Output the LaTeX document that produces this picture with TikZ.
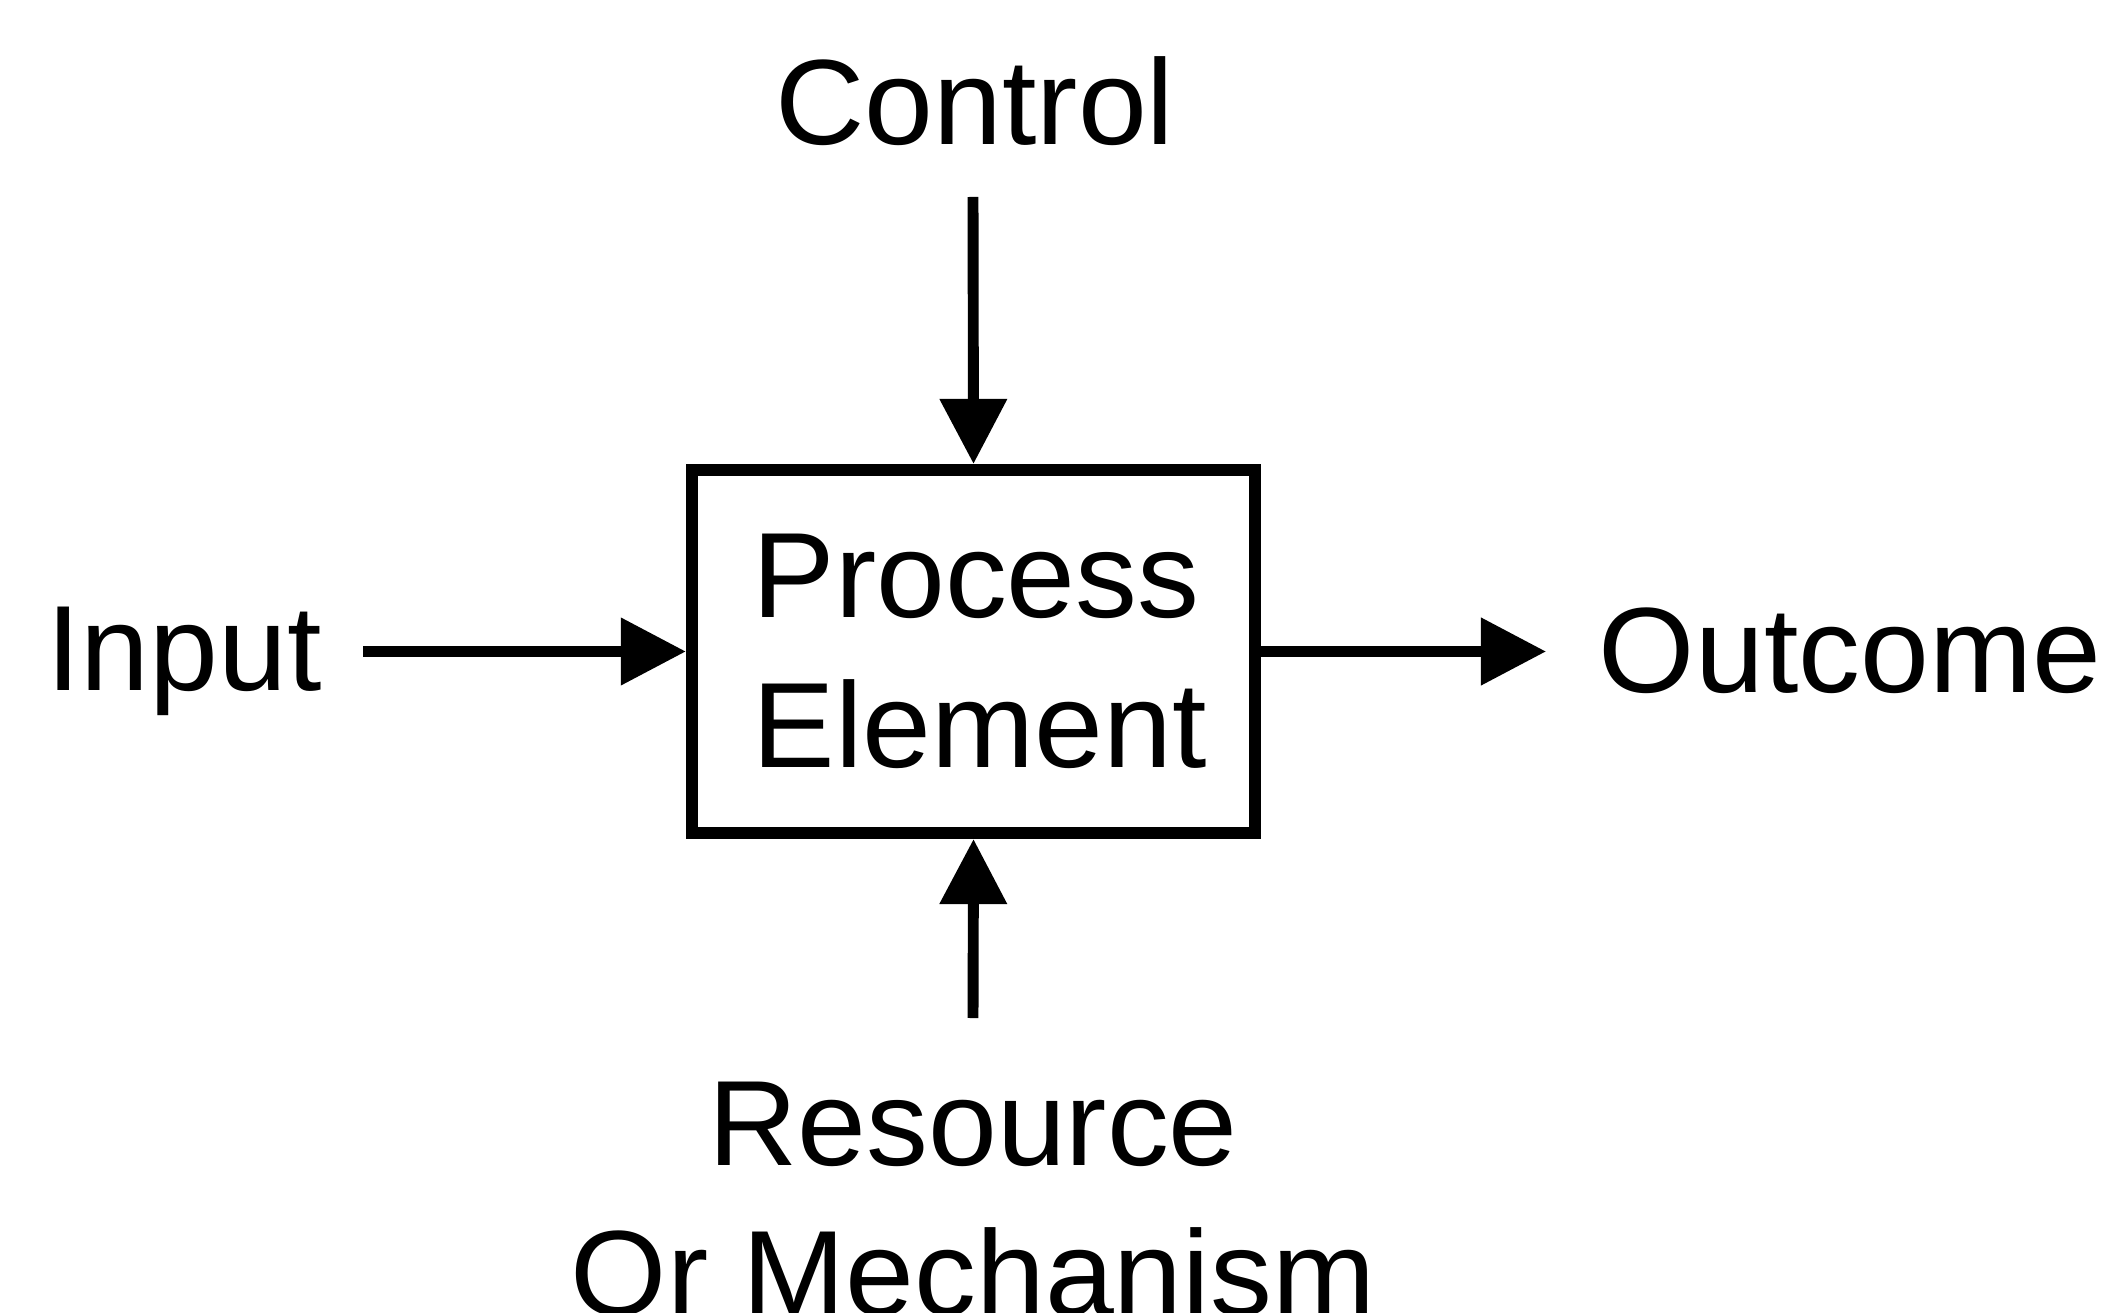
\documentclass[tikz,border=0pt]{standalone}
\usepackage{fontspec}
\setmainfont{Liberation Sans}[FakeStretch=1.02]
\usetikzlibrary{arrows.meta,calc}

\begin{document}
\begin{tikzpicture}[x=0.01cm,y=-0.01cm,
  label text/.style={font=\fontsize{34.5}{42.7}\selectfont, inner sep=0pt, text=black},
  process box/.style={draw=black, line width=3.4pt, fill=white, inner sep=0pt,
    minimum width=5.63cm, minimum height=3.63cm, align=left,
    font=\fontsize{34.5}{42.7}\selectfont},
  flow/.style={line width=3.1pt, -{Triangle[length=18.5pt,width=18.5pt]}}]

  % canvas
  \fill[white] (0,0) rectangle (2104,1313);
  \useasboundingbox (0,0) rectangle (2104,1313);

  % central activity box
  \node[process box] (box) at (973.5,651.5)
    {\hspace*{0.12cm}Process\\\hspace*{0.12cm}Element};

  % labels around the box
  \node[label text, anchor=base] (ctl) at (975,145) {Control};
  \node[label text, anchor=base] (inp) at (184,690) {Input};
  \node[label text, anchor=base] (out) at (1850,692) {Outcome};
  \node[label text, anchor=north, align=center] (res) at (973,1081) {Resource\\Or Mechanism};

  % free ends of the connectors
  \coordinate (ctlstart) at (973,197);
  \coordinate (inpstart) at (363,651.5);
  \coordinate (resstart) at (973,1018);
  \coordinate (outend) at (1546,651.5);

  % connectors
  \draw[flow] (ctlstart) -- (box.north);
  \draw[flow] (inpstart) -- (box.west);
  \draw[flow] (resstart) -- (box.south);
  \draw[flow] (box.east) -- (outend);
\end{tikzpicture}
\end{document}
